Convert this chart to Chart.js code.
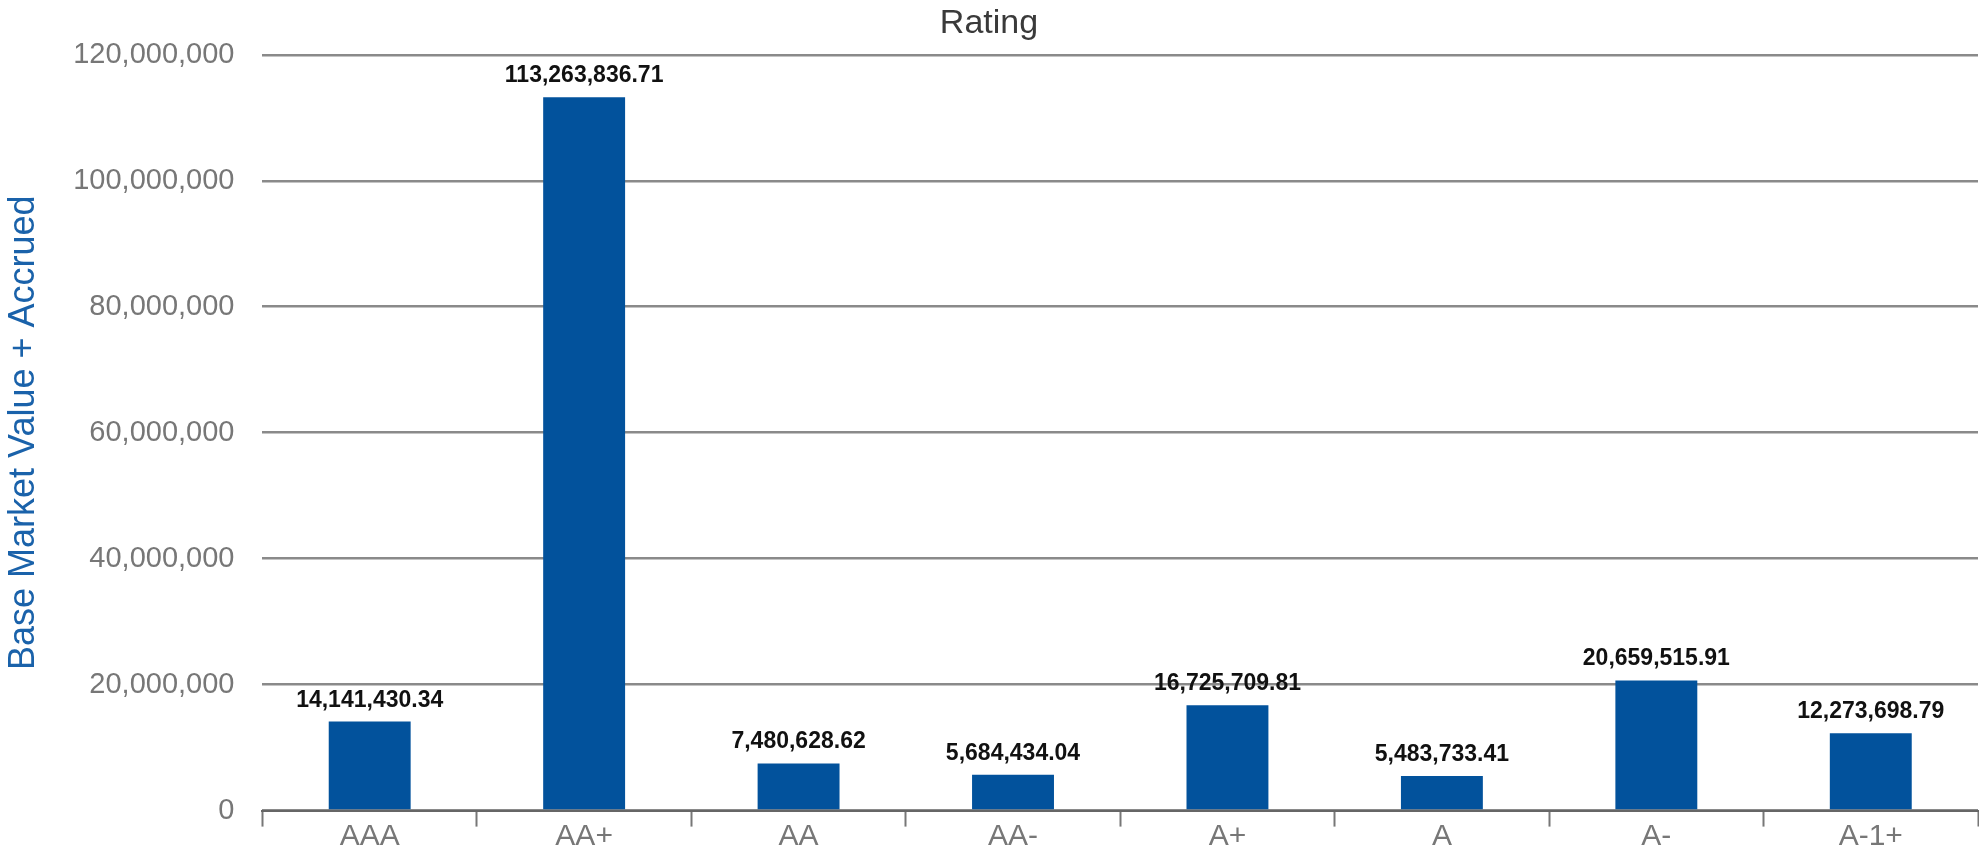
<!DOCTYPE html>
<html>
<head>
<meta charset="utf-8">
<script src="https://cdn.jsdelivr.net/npm/chart.js@4/dist/chart.umd.min.js"></script>
<style>
  html, body { margin: 0; padding: 0; background: #fff; }
  #wrap { width: 1979px; height: 856px; }
</style>
</head>
<body>
<div id="wrap"><canvas id="ratingChart"></canvas></div>
<script>
// Holdings by credit rating
const ratings = ['AAA', 'AA+', 'AA', 'AA-', 'A+', 'A', 'A-', 'A-1+'];
const marketValues = [14141430.34, 113263836.71, 7480628.62, 5684434.04, 16725709.81, 5483733.41, 20659515.91, 12273698.79];
const yMax = 120000000;
const yStep = 20000000;

const fmtInt = v => Number(v).toLocaleString('en-US');
const fmtMoney = v => Number(v).toLocaleString('en-US', { minimumFractionDigits: 2, maximumFractionDigits: 2 });

const FONT = '"Liberation Sans", Arial, sans-serif';

// write the value above each bar
const barValueLabels = {
    id: 'barValueLabels',
    afterDatasetsDraw(chart) {
        const ctx = chart.ctx;
        const meta = chart.getDatasetMeta(0);
        ctx.save();
        ctx.font = 'bold 23px ' + FONT;
        ctx.fillStyle = '#111';
        ctx.textAlign = 'center';
        ctx.textBaseline = 'alphabetic';
        meta.data.forEach((bar, i) => {
            ctx.fillText(fmtMoney(chart.data.datasets[0].data[i]), bar.x, bar.y - 15);
        });
        ctx.restore();
    }
};

const ctx = document.getElementById('ratingChart').getContext('2d');
new Chart(ctx, {
    type: 'bar',
    data: {
        labels: ratings,
        datasets: [{
            label: 'Base Market Value + Accrued',
            data: marketValues,
            backgroundColor: '#02529c',
            borderWidth: 0,
            barPercentage: 0.382,
            categoryPercentage: 1
        }]
    },
    options: {
        responsive: true,
        maintainAspectRatio: false,
        animation: false,
        layout: { padding: { left: 0, right: 1, top: 0, bottom: 0 } },
        plugins: {
            legend: { display: false },
            tooltip: { enabled: false },
            title: {
                display: true,
                text: 'Rating',
                color: '#3a3a3a',
                font: { family: FONT, size: 34, weight: 'normal' },
                padding: { top: 3, bottom: 11 }
            }
        },
        scales: {
            x: {
                grid: {
                    display: true,
                    drawOnChartArea: false,
                    drawTicks: true,
                    tickLength: 16,
                    tickWidth: 2,
                    tickColor: '#777',
                    offset: true
                },
                border: { display: true, color: '#666', width: 2 },
                ticks: {
                    color: '#777',
                    padding: -8,
                    font: { family: FONT, size: 30 }
                }
            },
            y: {
                min: 0,
                max: yMax,
                grid: {
                    color: '#8a8a8a',
                    lineWidth: 2.5,
                    drawTicks: false
                },
                border: { display: false },
                ticks: {
                    stepSize: yStep,
                    color: '#777',
                    padding: 28,
                    font: { family: FONT, size: 29 },
                    callback: v => fmtInt(v)
                },
                title: {
                    display: true,
                    text: 'Base Market Value + Accrued',
                    color: '#1a62aa',
                    font: { family: FONT, size: 36 },
                    padding: { top: 2, bottom: 0 }
                }
            }
        }
    },
    plugins: [barValueLabels]
});
</script>
</body>
</html>
